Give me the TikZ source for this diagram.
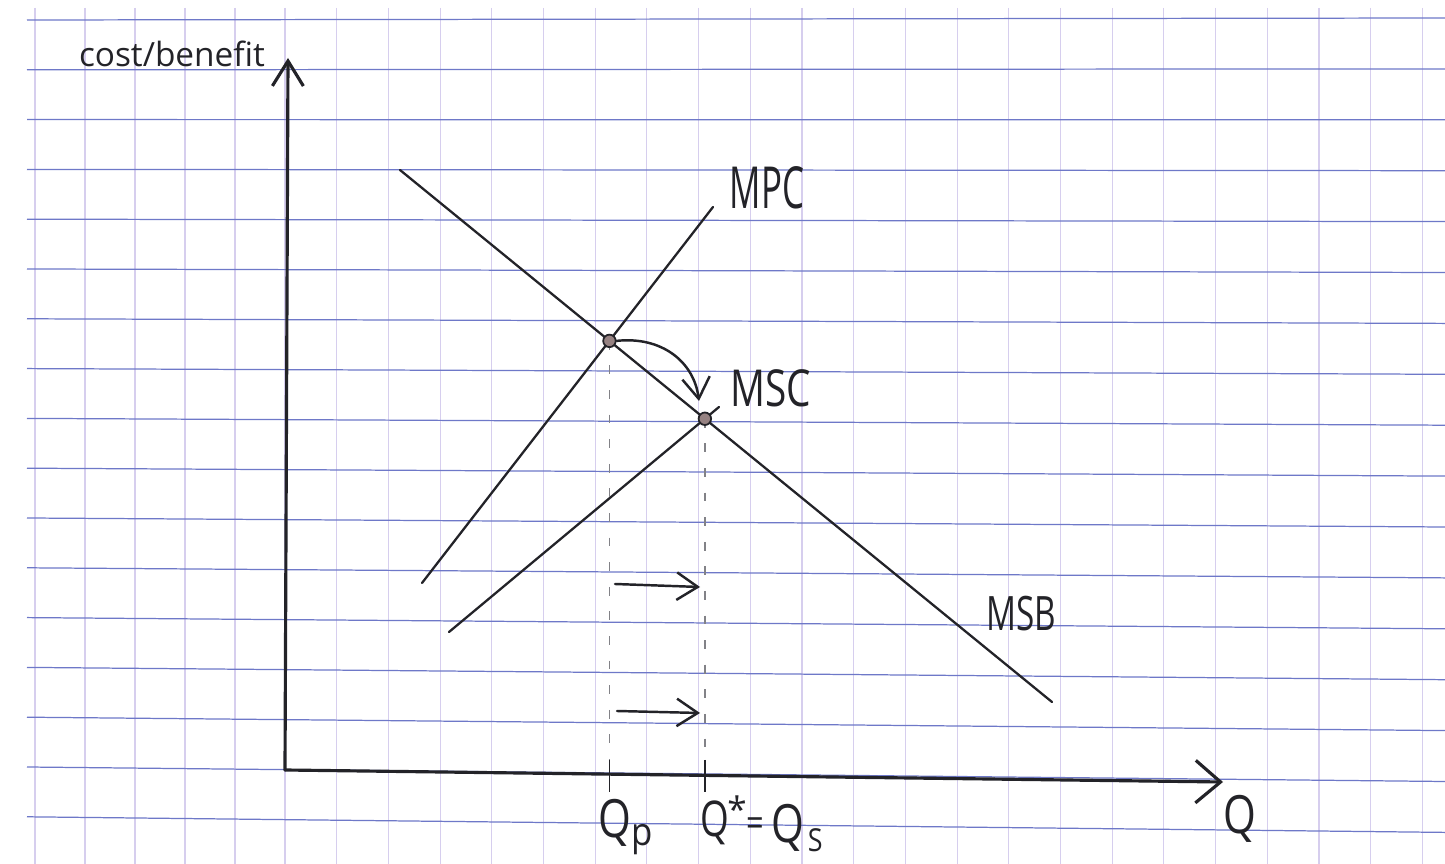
\documentclass[tikz,border=0pt]{standalone}
\usepackage{fontspec}
\setmainfont{Open Sans}
\usetikzlibrary{arrows.meta}
\definecolor{ink}{RGB}{35,35,40}
\definecolor{hgrid}{RGB}{110,120,200}
\definecolor{vgrid}{RGB}{214,206,238}
\definecolor{dotfill}{RGB}{150,130,130}
\definecolor{guidec}{RGB}{130,130,135}
\newcommand\handw[3]{{\fontsize{#1}{#1}\selectfont\scalebox{#2}[1]{#3}}}
\begin{document}
\begin{tikzpicture}[x=0.02cm,y=-0.02cm,
  hline/.style={draw=hgrid,line width=0.7pt},
  vline/.style={draw=vgrid,line width=0.6pt},
  axis/.style={draw=ink,line width=1.8pt,line cap=round},
  curve/.style={draw=ink,line width=1.3pt,line cap=round},
  arr/.style={draw=ink,line width=1.4pt,line cap=round,-{Straight Barb[length=0.42cm,width=0.55cm]}},
  guide/.style={draw=guidec,line width=0.7pt,dash pattern=on 5pt off 9pt},
  tickmark/.style={draw=ink,line width=1.1pt},
  eqdot/.style={circle,draw=ink,fill=dotfill,line width=1pt,minimum size=0.25cm,inner sep=0pt},
  lbl/.style={text=ink,inner sep=0pt}]
\fill[white] (0,0) rectangle (1445,864);
\useasboundingbox (0,0) rectangle (1445,864);
% graph paper
\foreach \k in {0,...,4} {\draw[vline] ({35+50*\k},8) -- ({35+50*\k},864);}
\foreach \k in {5,...,27} {\pgfmathsetmacro\xx{285+51.7*(\k-5)}\draw[vline] (\xx,8) -- (\xx,864);}
\foreach \j in {0,...,16} {\draw[hline] (27,{20+49.8*\j}) -- (1445,{18+50.9*\j});}
% coordinates
\coordinate (O) at (285,770);
\coordinate (Ytop) at (288,58);
\coordinate (Xend) at (1223,782);
\coordinate (msb1) at (400,170);
\coordinate (msb2) at (1052,702);
\coordinate (mpc1) at (422,583);
\coordinate (mpc2) at (713,207);
\coordinate (msc1) at (449,632);
\coordinate (msc2) at (719,407);
\coordinate (E1) at (intersection of msb1--msb2 and mpc1--mpc2);
\coordinate (E2) at (intersection of msb1--msb2 and msc1--msc2);
\coordinate (base) at (0,792);
\coordinate (ttop) at (0,760);
% axes
\draw[axis,-{Straight Barb[length=0.5cm,width=0.62cm]}] (O) -- (Ytop);
\draw[axis,-{Straight Barb[length=0.5cm,width=0.85cm]}] (O) -- (Xend);
% curves
\draw[curve] (msb1) -- (msb2);
\draw[curve] (mpc1) -- (mpc2);
\draw[curve] (msc1) -- (msc2);
% guides and ticks
\draw[guide] (E1) -- (E1 |- base);
\draw[guide] (E2) -- (E2 |- base);
\draw[tickmark] (E1 |- ttop) -- (E1 |- base);
\draw[tickmark] (E2 |- ttop) -- (E2 |- base);
% shift arrows
\coordinate (s1a) at (615,584);
\coordinate (s1b) at (700,587);
\coordinate (s2a) at (617,711);
\coordinate (s2b) at (700,713);
\draw[arr] (s1a) -- (s1b);
\draw[arr] (s2a) -- (s2b);
% equilibrium dots
\node[eqdot] (e1) at (E1) {};
\node[eqdot] (e2) at (E2) {};
\coordinate (carrow) at (699,401);
\draw[arr] (e1.east) .. controls (662,336) and (694,362) .. (carrow);
% labels
\node[lbl,anchor=base] (ylab) at (172,67) {\handw{19}{1}{cost/benefit}};
\node[lbl,anchor=base] (mpcl) at (767,209) {\handw{33}{0.6}{MPC}};
\node[lbl,anchor=base] (mscl) at (771,407) {\handw{29}{0.76}{MSC}};
\node[lbl,anchor=base] (msbl) at (1021,631) {\handw{27}{0.7}{MSB}};
\node[lbl,anchor=base] (xlab) at (1240,834) {\handw{30}{0.8}{Q}};
\node[lbl,anchor=base west] (qpl) at (598,838) {\handw{30}{0.8}{Q}\raisebox{-4pt}{\handw{22}{0.9}{p}}};
\node[lbl,anchor=base west] (qsl) at (700,837) {\handw{28}{0.75}{Q}\hspace{-1pt}\raisebox{8pt}{\handw{20}{1}{*}}\handw{22}{0.8}{=}\hspace{4pt}\raisebox{-3pt}{\handw{30}{0.8}{Q}}\hspace{2pt}\raisebox{-8pt}{\handw{18}{0.85}{S}}};
\end{tikzpicture}
\end{document}
